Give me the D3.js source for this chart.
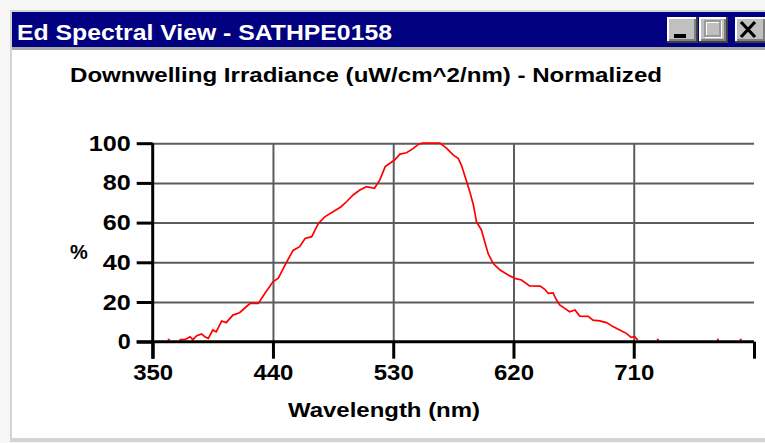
<!DOCTYPE html>
<html>
<head>
<meta charset="utf-8">
<script src="https://cdn.jsdelivr.net/npm/d3@7"></script>
<style>
  html, body { margin: 0; padding: 0; background: #f3f3f3; }
  svg { display: block; }
  text { font-family: "Liberation Sans", Arial, sans-serif; font-weight: bold; }
</style>
</head>
<body>
<svg id="chart" width="765" height="443"></svg>
<script>
// Window and chart text
const windowTitle = "Ed Spectral View - SATHPE0158";
const chartTitle = "Downwelling Irradiance (uW/cm^2/nm) - Normalized";
const xAxisTitle = "Wavelength (nm)";
const yAxisTitle = "%";

// Axis ticks
const xTickValues = [350, 440, 530, 620, 710, 800];
const xTickLabels = ["350", "440", "530", "620", "710", ""];
const yTickValues = [0, 20, 40, 60, 80, 100];

// Normalized Ed spectrum (null = no sample / break in the trace)
const wavelengthNm = [
  362, 366,
  370, 374, 378, 380, 383, 386.6, 389, 391.6, 395, 397.5, 401.6, 405, 410, 415,
  420, 423, 429, 434, 440, 444, 450, 455, 460, 464, 469, 474, 479, 485, 491,
  495, 500, 505, 510, 516, 520, 524, 527.5, 531, 535, 540, 545, 549, 552, 565,
  570, 575, 578.6, 581, 585, 587.3, 590, 592.3, 596, 598.5, 601, 604.7, 610,
  616, 621, 626, 632, 640, 643.4, 646, 649.6, 652.2, 654.6, 658.4, 662, 666,
  669.6, 676, 679.5, 684.5, 689.6, 694.5, 699.5, 704.5, 708, 710.7, 713,
  720, 728, 750, 773, 782, 790
];
const irradiancePct = [
  1, null,
  1, 1, 2.5, 1, 3, 3.9, 2.5, 1.7, 5.9, 5, 10.4, 9.6, 13.4, 14.6,
  17.6, 19.3, 19.3, 24.4, 30.2, 32, 39.8, 46, 47.9, 52, 52.9, 59.6, 63, 65.5, 68,
  70.5, 73.9, 76.4, 78.1, 77.3, 81.5, 88.2, 89.9, 91.5, 94.5, 95.2, 97.4, 99.5, 100, 100,
  97.4, 94, 92.4, 89, 80.6, 75.6, 68.9, 60.5, 56.3, 50.4, 44.5, 39.5, 36.1,
  33.6, 31.9, 31.1, 28.1, 28, 26.4, 24.4, 24.6, 21, 18.5, 16.8, 15.1, 16,
  12.9, 12.8, 10.9, 10.5, 9.6, 7.6, 5.9, 4.2, 2.2, 2.5, 0.9,
  null, 1, null, 1, null, 1
];

const svg = d3.select("#chart");

// ---- window frame ----
svg.append("rect").attr("x", 0).attr("y", 0).attr("width", 765).attr("height", 443).attr("fill", "#f6f6f6");
svg.append("rect").attr("x", 10).attr("y", 10).attr("width", 755).attr("height", 432).attr("fill", "#d4d4d4");
svg.append("rect").attr("x", 12).attr("y", 12).attr("width", 753).attr("height", 428).attr("fill", "#ffffff");
svg.append("rect").attr("x", 12).attr("y", 12).attr("width", 753).attr("height", 35).attr("fill", "#000080");
svg.append("rect").attr("x", 12).attr("y", 47).attr("width", 753).attr("height", 3).attr("fill", "#a9a9a9");
svg.append("rect").attr("x", 12).attr("y", 438).attr("width", 753).attr("height", 3).attr("fill", "#d4d4d4");

svg.append("text")
  .attr("x", 17).attr("y", 40)
  .attr("fill", "#ffffff")
  .attr("font-size", 22)
  .attr("textLength", 375).attr("lengthAdjust", "spacingAndGlyphs")
  .text(windowTitle);

// caption buttons
function bevelButton(x, y, w, h) {
  const g = svg.append("g");
  g.append("rect").attr("x", x).attr("y", y).attr("width", w).attr("height", h).attr("fill", "#404040");
  g.append("rect").attr("x", x).attr("y", y).attr("width", w - 2).attr("height", h - 2).attr("fill", "#ffffff");
  g.append("rect").attr("x", x + 2).attr("y", y + 2).attr("width", w - 4).attr("height", h - 4).attr("fill", "#808080");
  g.append("rect").attr("x", x + 2).attr("y", y + 2).attr("width", w - 6).attr("height", h - 6).attr("fill", "#c0c0c0");
  return g;
}
const bMin = bevelButton(667, 17, 31, 26);
bMin.append("rect").attr("x", 674).attr("y", 34).attr("width", 12).attr("height", 4).attr("fill", "#000");
const bMax = bevelButton(699, 17, 29, 26);
bMax.append("rect").attr("x", 706).attr("y", 22).attr("width", 15).attr("height", 15)
  .attr("fill", "none").attr("stroke", "#ffffff").attr("stroke-width", 2);
bMax.append("rect").attr("x", 705).attr("y", 21).attr("width", 15).attr("height", 15)
  .attr("fill", "none").attr("stroke", "#9a9a9a").attr("stroke-width", 2);
const bClose = bevelButton(735, 17, 32, 26);
bClose.append("path").attr("d", "M741,22 L755,37 M755,22 L741,37")
  .attr("stroke", "#000").attr("stroke-width", 3.2);

// ---- chart ----
const x = d3.scaleLinear().domain([350, 800]).range([152.7, 754]);
const y = d3.scaleLinear().domain([0, 100]).range([341.7, 143.2]);

svg.append("text")
  .attr("x", 70).attr("y", 82)
  .attr("fill", "#000")
  .attr("font-size", 20)
  .attr("textLength", 592).attr("lengthAdjust", "spacingAndGlyphs")
  .text(chartTitle);

// gridlines
const gridX = svg.append("g")
  .attr("transform", `translate(0,${y(0)})`)
  .call(d3.axisBottom(x).tickValues(xTickValues.filter(v => v > 350 && v < 800))
    .tickSize(-(y(0) - y(100))).tickFormat(""));
gridX.select(".domain").remove();
gridX.selectAll(".tick line").attr("stroke", "#5c5c5c").attr("stroke-width", 2);

const gridY = svg.append("g")
  .attr("transform", `translate(${x(350)},0)`)
  .call(d3.axisRight(y).tickValues(yTickValues.filter(v => v > 0))
    .tickSize(x(800) - x(350)).tickFormat(""));
gridY.select(".domain").remove();
gridY.selectAll(".tick line").attr("stroke", "#5c5c5c").attr("stroke-width", 2);

// spectrum trace
const pts = wavelengthNm.map((w, i) => ({ w, v: irradiancePct[i] }));
const line = d3.line()
  .defined(d => d.v !== null)
  .x(d => x(d.w))
  .y(d => y(d.v));
svg.append("path")
  .datum(pts)
  .attr("d", line)
  .attr("fill", "none")
  .attr("stroke", "#ff0000")
  .attr("stroke-width", 1.7)
  .attr("stroke-linejoin", "miter");

// single samples with no neighbours show as dots
const lone = pts.filter((d, i) => d.v !== null &&
  (i === 0 || pts[i - 1].v === null) &&
  (i === pts.length - 1 || pts[i + 1].v === null));
svg.selectAll("rect.lone")
  .data(lone)
  .join("rect")
  .attr("class", "lone")
  .attr("x", d => x(d.w) - 1)
  .attr("y", d => y(d.v) - 1)
  .attr("width", 2).attr("height", 2)
  .attr("fill", "#ff0000");

// x axis
const xAxis = svg.append("g")
  .attr("transform", `translate(0,${y(0)})`)
  .call(d3.axisBottom(x).tickValues(xTickValues)
    .tickFormat((d, i) => xTickLabels[i]).tickSize(17).tickPadding(6));
xAxis.select(".domain").remove();
xAxis.selectAll(".tick line").attr("stroke", "#000").attr("stroke-width", 3);
xAxis.selectAll(".tick text")
  .attr("fill", "#000")
  .attr("font-size", 22)
  .attr("font-family", "'Liberation Sans', Arial, sans-serif")
  .attr("font-weight", "bold")
  .attr("textLength", 40).attr("lengthAdjust", "spacingAndGlyphs");
svg.append("line")
  .attr("x1", x(350) - 16).attr("x2", x(800))
  .attr("y1", y(0)).attr("y2", y(0))
  .attr("stroke", "#000").attr("stroke-width", 3);

// y axis
const yAxis = svg.append("g")
  .attr("transform", `translate(${x(350)},0)`)
  .call(d3.axisLeft(y).tickValues(yTickValues).tickSize(16).tickPadding(6));
yAxis.select(".domain").remove();
yAxis.selectAll(".tick line").attr("stroke", "#000").attr("stroke-width", 3);
yAxis.selectAll(".tick text")
  .attr("fill", "#000")
  .attr("font-size", 22)
  .attr("font-family", "'Liberation Sans', Arial, sans-serif")
  .attr("font-weight", "bold")
  .attr("textLength", d => d === 100 ? 42 : d === 0 ? 13 : 28)
  .attr("lengthAdjust", "spacingAndGlyphs");
svg.append("line")
  .attr("x1", x(350)).attr("x2", x(350))
  .attr("y1", y(100)).attr("y2", y(0) + 17)
  .attr("stroke", "#000").attr("stroke-width", 3);

// axis titles
svg.append("text")
  .attr("x", 384).attr("y", 417)
  .attr("text-anchor", "middle")
  .attr("fill", "#000")
  .attr("font-size", 21)
  .attr("textLength", 192).attr("lengthAdjust", "spacingAndGlyphs")
  .text(xAxisTitle);
svg.append("text")
  .attr("x", 79).attr("y", 259)
  .attr("text-anchor", "middle")
  .attr("fill", "#000")
  .attr("font-size", 20)
  .text(yAxisTitle);
</script>
</body>
</html>
